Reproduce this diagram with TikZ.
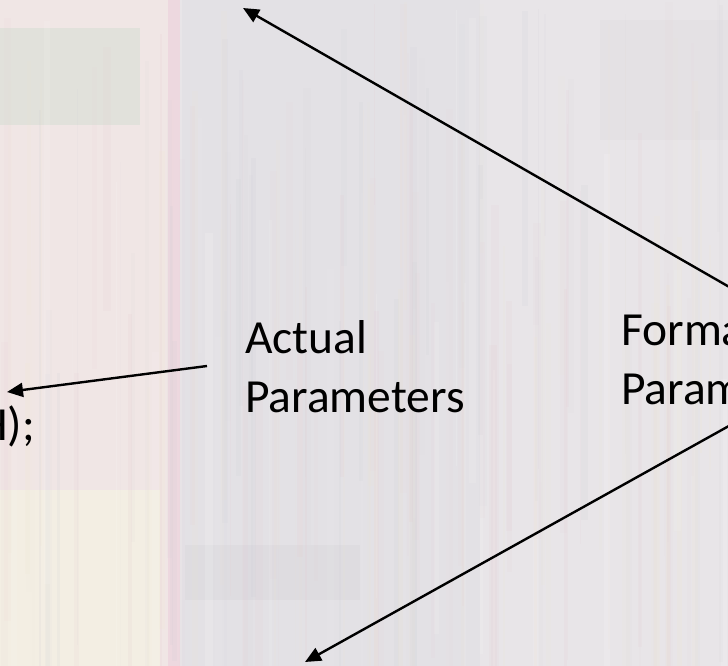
\documentclass[tikz,border=0pt]{standalone}
\usepackage{fontspec}
\setmainfont{Carlito}
\usetikzlibrary{arrows.meta}
\definecolor{boardBase}{HTML}{E8E5E8}
\definecolor{boardPink}{HTML}{F0E6E5}
\definecolor{boardCream}{HTML}{F3EEE3}
\definecolor{boardGreen}{HTML}{E1E1DB}
\definecolor{boardGrey}{HTML}{E3E1E5}
\definecolor{boardRose}{HTML}{EDD8DF}
\definecolor{stripe0}{HTML}{E6C8CF}
\definecolor{stripe1}{HTML}{F1E6CC}
\definecolor{stripe2}{HTML}{CDCDD4}
\definecolor{stripe3}{HTML}{FFFFFF}
\begin{document}
\begin{tikzpicture}[x=1pt,y=-1pt,
  pointer/.style={line width=2.4pt,-{Triangle[length=16pt,width=14pt]}},
  calloutText/.style={inner sep=0pt,align=left,
    font=\fontsize{47.5}{59}\selectfont,text=black}]
\useasboundingbox (0,0) rectangle (728,666);
\clip (0,0) rectangle (728,666);

% washed-out circuit-board backdrop
\fill[boardBase] (0,0) rectangle (728,666);
\fill[boardPink] (0,0) rectangle (172,666);
\fill[boardGreen] (0,28) rectangle (140,125);
\fill[boardCream] (0,490) rectangle (160,666);
\fill[boardRose] (168,0) rectangle (180,666);
\fill[boardGrey] (182,0) rectangle (480,666);
\fill[black,opacity=0.02] (185,545) rectangle (360,600);
\fill[black,opacity=0.015] (600,20) rectangle (728,140);
\pgfmathsetseed{11}
\foreach \i in {1,...,170}{
  \pgfmathsetmacro\xx{rnd*728}
  \pgfmathsetmacro\ww{1+rnd*7}
  \pgfmathsetmacro\op{0.04+rnd*0.12}
  \pgfmathtruncatemacro\tone{rnd*3.99}
  \pgfmathsetmacro\yy{rnd*400}
  \pgfmathsetmacro\hh{200+rnd*500}
  \fill[stripe\tone,opacity=\op] (\xx,\yy) rectangle ++(\ww,\hh);
}

% labels (anchored on the baseline of the last line)
\node[calloutText,anchor=base west] (actual) at (245,412) {Actual\\Parameters};
\node[calloutText,anchor=base west] (formal) at (621,404) {Formal\\Parameters};
\node[calloutText,anchor=base east] (call) at (35,440) {H);};

% pointer ends
\coordinate (actualTail) at (207,366);
\coordinate (actualTip) at (7,392);
\coordinate (formalTopTail) at (745,296);
\coordinate (formalTopTip) at (243,8);
\coordinate (formalLowTail) at (745,417);
\coordinate (formalLowTip) at (305,662);

\draw[pointer] (actualTail) -- (actualTip);
\draw[pointer] (formalTopTail) -- (formalTopTip);
\draw[pointer] (formalLowTail) -- (formalLowTip);
\end{tikzpicture}
\end{document}
